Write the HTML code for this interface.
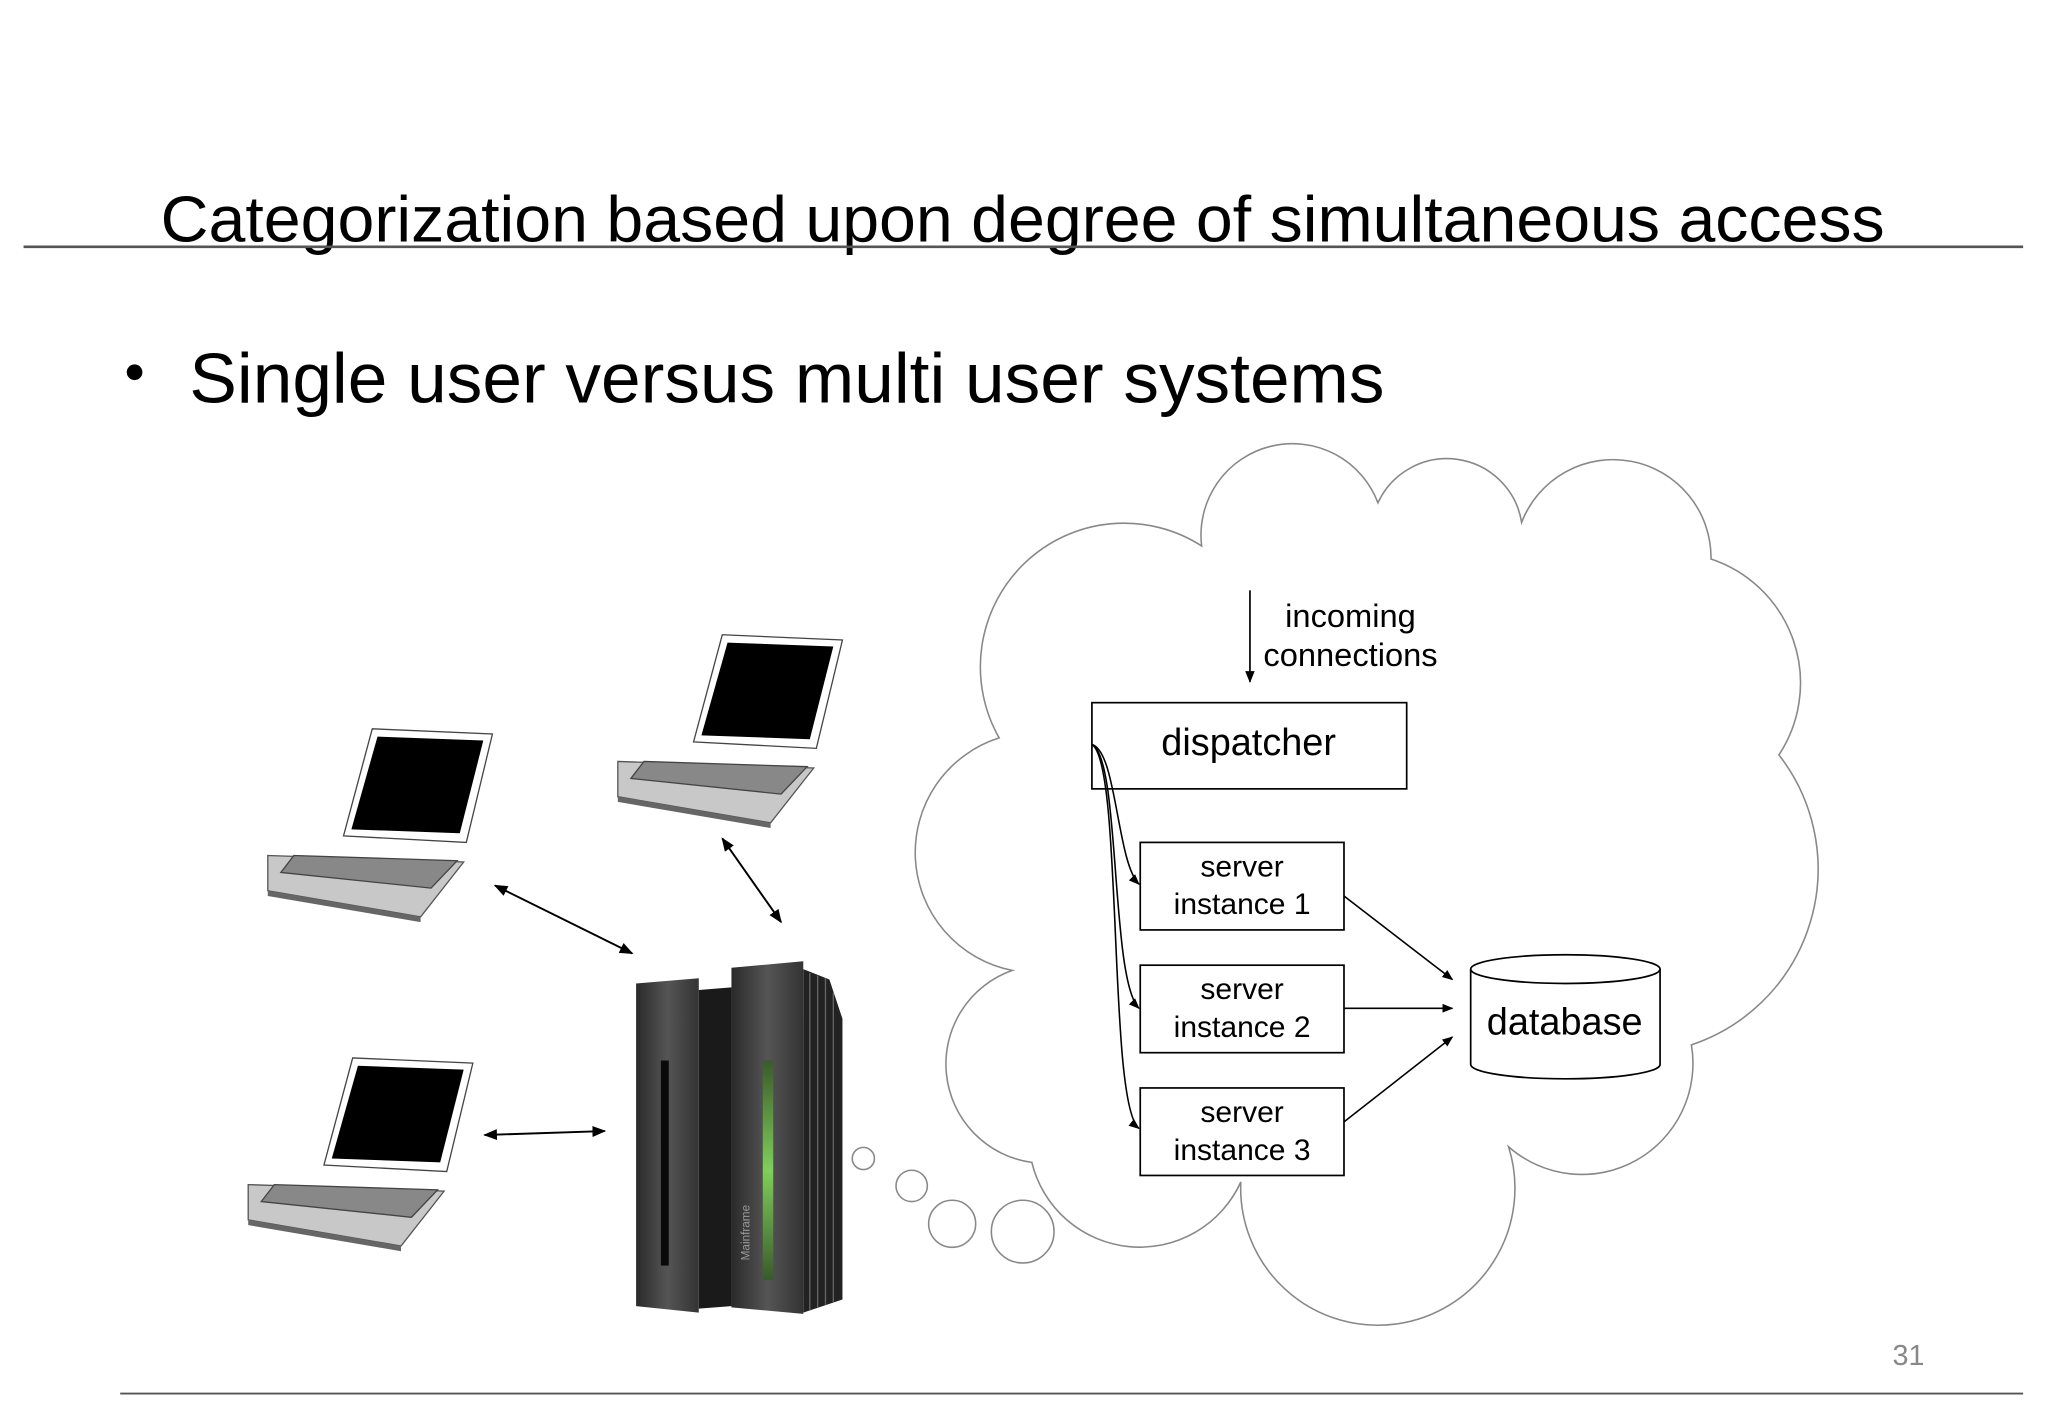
<!DOCTYPE html>
<html><head><meta charset="utf-8"><style>
html,body{margin:0;padding:0;background:#fff;width:2048px;height:1418px;overflow:hidden}
svg{display:block}
text{font-family:"Liberation Sans",sans-serif}
</style></head><body>
<svg width="2048" height="1418" viewBox="0 0 1568 1085.7" xmlns="http://www.w3.org/2000/svg">
<defs>
<marker id="a" viewBox="0 0 10 10" refX="9" refY="5" markerWidth="7" markerHeight="7" orient="auto-start-reverse"><path d="M0,1 L10,5 L0,9 z" fill="#000"/></marker>
<linearGradient id="pg" x1="0" x2="1"><stop offset="0" stop-color="#2a2a2a"/><stop offset="0.5" stop-color="#555"/><stop offset="1" stop-color="#333"/></linearGradient>
<linearGradient id="gg" x1="0" y1="0" x2="0" y2="1"><stop offset="0" stop-color="#3a5a2a"/><stop offset="0.5" stop-color="#7fcf5a"/><stop offset="1" stop-color="#3a5a2a"/></linearGradient>
</defs>
<text x="123" y="185" font-size="50" textLength="1320" lengthAdjust="spacingAndGlyphs">Categorization based upon degree of simultaneous access</text>
<line x1="18" y1="189" x2="1549" y2="189" stroke="#555" stroke-width="2"/>
<circle cx="103" cy="285" r="6" fill="#000"/>
<text x="145" y="308" font-size="54" textLength="915" lengthAdjust="spacingAndGlyphs">Single user versus multi user systems</text>
<line x1="92" y1="1067" x2="1549" y2="1067" stroke="#555" stroke-width="1.5"/>
<text x="1449" y="1045" font-size="22" fill="#888">31</text>

<!-- cloud -->
<path d="M775 743 A92 92 0 0 1 765 565 A110 110 0 0 1 920 418 A70 70 0 0 1 1055 385 A58 58 0 0 1 1165 400 A75 75 0 0 1 1310 428 A100 100 0 0 1 1362 578 A142 142 0 0 1 1295 800 A85 85 0 0 1 1155 878 A105 105 0 1 1 950 905 A85 85 0 0 1 790 890 A76 76 0 0 1 775 743 Z" fill="#fff" stroke="#888" stroke-width="1.2"/>
<circle cx="661" cy="887" r="8.5" fill="#fff" stroke="#888" stroke-width="1.2"/>
<circle cx="698" cy="908" r="12" fill="#fff" stroke="#888" stroke-width="1.2"/>
<circle cx="729" cy="937" r="18" fill="#fff" stroke="#888" stroke-width="1.2"/>
<circle cx="783" cy="943" r="24" fill="#fff" stroke="#888" stroke-width="1.2"/>

<!-- incoming -->
<line x1="957" y1="452" x2="957" y2="522" stroke="#000" stroke-width="1.3" marker-end="url(#a)"/>
<text x="1034" y="480" font-size="25" text-anchor="middle">incoming</text>
<text x="1034" y="510" font-size="25" text-anchor="middle">connections</text>

<rect x="836" y="538" width="241" height="66" fill="#fff" stroke="#000" stroke-width="1.3"/>
<text x="956" y="578" font-size="29" text-anchor="middle">dispatcher</text>

<g fill="#fff" stroke="#000" stroke-width="1.3">
<rect x="873" y="645" width="156" height="67"/>
<rect x="873" y="739" width="156" height="67"/>
<rect x="873" y="833" width="156" height="67"/>
</g>
<g font-size="23" text-anchor="middle">
<text x="951" y="671">server</text><text x="951" y="700">instance 1</text>
<text x="951" y="765">server</text><text x="951" y="794">instance 2</text>
<text x="951" y="859">server</text><text x="951" y="888">instance 3</text>
</g>
<g fill="none" stroke="#000" stroke-width="1.2">
<path d="M836 570 C855 575 855 660 872 677" marker-end="url(#a)"/>
<path d="M836 570 C858 580 850 750 872 772" marker-end="url(#a)"/>
<path d="M836 570 C860 585 848 845 872 864" marker-end="url(#a)"/>
<line x1="1029" y1="686" x2="1112" y2="750" marker-end="url(#a)"/>
<line x1="1029" y1="772" x2="1112" y2="772" marker-end="url(#a)"/>
<line x1="1029" y1="859" x2="1112" y2="794" marker-end="url(#a)"/>
</g>
<!-- database -->
<path d="M1126 742 L1126 815 A72.5 11 0 0 0 1271 815 L1271 742" fill="#fff" stroke="#000" stroke-width="1.3"/>
<ellipse cx="1198.5" cy="742" rx="72.5" ry="11" fill="#fff" stroke="#000" stroke-width="1.3"/>
<text x="1198" y="792" font-size="29" text-anchor="middle">database</text>

<!-- laptops -->
<g id="lp">
<path d="M205 655 L355 660 L322 702 L205 682 Z" fill="#c8c8c8" stroke="#555"/>
<path d="M225 655 L350 659 L330 680 L215 668 Z" fill="#888" stroke="#444"/>
<path d="M205 682 L322 702 L322 706 L205 686 Z" fill="#666"/>
<path d="M285 558 L377 562 L357 645 L263 640 Z" fill="#fff" stroke="#444"/>
<path d="M289 564 L370 567 L352 638 L269 635 Z" fill="#000"/>
</g>
<use href="#lp" transform="translate(268,-72)"/>
<use href="#lp" transform="translate(-15,252)"/>

<!-- arrows -->
<g stroke="#000" stroke-width="1.5">
<line x1="379" y1="678" x2="484" y2="730" marker-start="url(#a)" marker-end="url(#a)"/>
<line x1="553" y1="642" x2="598" y2="706" marker-start="url(#a)" marker-end="url(#a)"/>
<line x1="371" y1="869" x2="463" y2="866" marker-start="url(#a)" marker-end="url(#a)"/>
</g>

<!-- mainframe -->
<path d="M535 758 L560 756 L560 1000 L535 1002 Z" fill="#1a1a1a"/>
<path d="M615 742 L635 750 L645 780 L645 995 L615 1005 Z" fill="#222"/>
<g stroke="#666" stroke-width="1"><line x1="620" y1="745" x2="620" y2="1003"/><line x1="626" y1="747" x2="626" y2="1001"/><line x1="632" y1="749" x2="632" y2="999"/><line x1="638" y1="760" x2="638" y2="997"/></g>
<path d="M487 753 L535 749 L535 1005 L487 1000 Z" fill="url(#pg)"/>
<path d="M560 741 L615 736 L615 1006 L560 1001 Z" fill="url(#pg)"/>
<rect x="506" y="812" width="6" height="157" fill="#0a0a0a"/>
<rect x="584" y="812" width="8" height="168" fill="url(#gg)"/>
<text x="574" y="965" font-size="9" fill="#999" font-family="Liberation Serif" transform="rotate(-90 574 965)">Mainframe</text>
</svg>
</body></html>
